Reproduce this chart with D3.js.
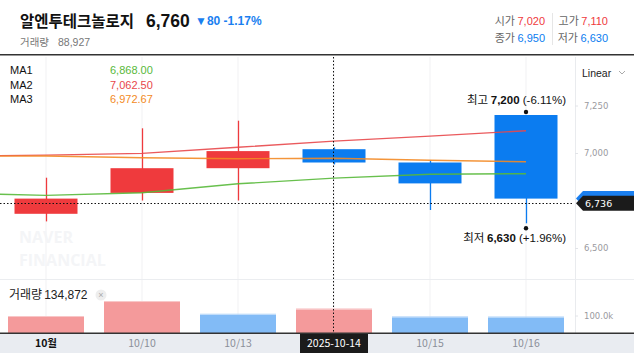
<!DOCTYPE html>
<html>
<head>
<meta charset="utf-8">
<script src="https://cdn.jsdelivr.net/npm/d3@7"></script>
<style>
  body { margin: 0; background: #fff; }
  svg { display: block; font-family: "Liberation Sans", "Noto Sans CJK KR", sans-serif; }
</style>
</head>
<body>
<svg id="chart" width="634" height="353"></svg>
<script>
// dates (first one is off-screen, only the moving averages pass through it)
const dates = ["10/01", "10/02", "10/10", "10/13", "10/14", "10/15", "10/16"];
const tickLabels = ["", "10월", "10/10", "10/13", "2025-10-14", "10/15", "10/16"];

const candleDates = ["10/02", "10/10", "10/13", "10/14", "10/15", "10/16"];
const opens  = [6680, 6790, 6920, 7020, 6950, 7200];
const highs  = [6870, 7130, 7170, 7030, 6960, 7200];
const lows   = [6640, 6750, 6750, 6940, 6700, 6630];
const closes = [6760, 6920, 7010, 6950, 6840, 6760];
const prevVolume = 80000;
const volumes = [91400, 177000, 104600, 134872, 89500, 88927];

const ma1 = [6790, 6777, 6791, 6838, 6868, 6888, 6891];
const ma2 = [6983, 6989, 6998, 7030, 7062.5, 7089, 7117];
const ma3 = [6983, 6984, 6975, 6970, 6972.67, 6962, 6954];

const priceTicks = [6500, 7000, 7250];

const width = 634, height = 353;
const plotTop = 55, plotBottom = 279, volBottom = 333, axisX = 575;
const UP = "#ef3a3d", DOWN = "#0b7cf0";

const svg = d3.select("#chart");

const x = d3.scalePoint().domain(dates).range([-50, 526]);
const y = d3.scaleLinear().domain([6500, 7250]).range([248, 105.5]);
const yVol = d3.scaleLinear().domain([0, 100000]).range([volBottom, volBottom - 17.5]);

// header
const head = svg.append("g");
head.append("text").attr("x", 20).attr("y", 27)
  .attr("font-size", 15.5).attr("font-weight", "bold").attr("fill", "#111")
  .style("font-family", "'Noto Sans CJK KR'")
  .text("알엔투테크놀로지");
head.append("text").attr("x", 146).attr("y", 27)
  .attr("font-size", 17.5).attr("font-weight", "bold").attr("fill", "#111")
  .text("6,760");
head.append("text").attr("x", 195).attr("y", 25)
  .attr("font-size", 12).attr("font-weight", "bold").attr("fill", "#1a7ff0")
  .text("▼80  -1.17%");
head.append("text").attr("x", 20).attr("y", 46)
  .attr("font-size", 10.5).attr("fill", "#777")
  .html('<tspan style="font-family:\'Noto Sans CJK KR\'">거래량</tspan><tspan dx="9">88,927</tspan>');

const ohlc = [
  {x: 545, y: 25, k: "시가", v: "7,020", c: UP},
  {x: 608, y: 25, k: "고가", v: "7,110", c: UP},
  {x: 545, y: 42, k: "종가", v: "6,950", c: DOWN},
  {x: 608, y: 42, k: "저가", v: "6,630", c: DOWN}
];
ohlc.forEach(d => {
  const t = head.append("text").attr("x", d.x).attr("y", d.y)
    .attr("text-anchor", "end").attr("font-size", 11);
  t.append("tspan").attr("fill", "#666").style("font-family", "'Noto Sans CJK KR'").text(d.k + " ");
  t.append("tspan").attr("fill", d.c).text(d.v);
});
head.append("line").attr("x1", 552.5).attr("x2", 552.5).attr("y1", 13).attr("y2", 45)
  .attr("stroke", "#e6e6e6");

svg.append("rect").attr("x", 0).attr("y", 54).attr("width", width).attr("height", 1.5)
  .attr("fill", "#333");

// grid lines
svg.append("g").selectAll("line").data(candleDates).join("line")
  .attr("x1", d => x(d)).attr("x2", d => x(d))
  .attr("y1", plotTop + 2).attr("y2", volBottom)
  .attr("stroke", "#f1f1f3");
svg.append("line").attr("x1", axisX + 0.5).attr("x2", axisX + 0.5)
  .attr("y1", plotTop + 2).attr("y2", volBottom).attr("stroke", "#e9ebee");
svg.append("line").attr("x1", 0).attr("x2", width).attr("y1", plotBottom + 0.5).attr("y2", plotBottom + 0.5)
  .attr("stroke", "#ebedf0");

// watermark
const wm = svg.append("g").attr("fill", "#f4f5f7").attr("font-weight", "bold").attr("font-size", 16)
  .style("font-family", "'Open Sans', sans-serif");
wm.append("text").attr("x", 19).attr("y", 243).text("NAVER");
wm.append("text").attr("x", 19).attr("y", 266).text("FINANCIAL");

// clip for the plot
svg.append("clipPath").attr("id", "plotclip").append("rect")
  .attr("x", 0).attr("y", plotTop).attr("width", axisX).attr("height", plotBottom - plotTop);
const plot = svg.append("g").attr("clip-path", "url(#plotclip)");

// candles
const bodyW = 63;
const candles = candleDates.map((d, i) => ({date: d, o: opens[i], h: highs[i], l: lows[i], c: closes[i]}));
plot.selectAll(".wick").data(candles).join("line")
  .attr("x1", d => Math.round(x(d.date)) + 0.5).attr("x2", d => Math.round(x(d.date)) + 0.5)
  .attr("y1", d => y(d.h)).attr("y2", d => y(d.l))
  .attr("stroke", d => d.c >= d.o ? UP : DOWN).attr("stroke-width", 1.3);
plot.selectAll(".body").data(candles).join("rect")
  .attr("x", d => x(d.date) - bodyW / 2)
  .attr("y", d => y(Math.max(d.o, d.c)))
  .attr("width", bodyW)
  .attr("height", d => Math.abs(y(d.o) - y(d.c)))
  .attr("fill", d => d.c >= d.o ? UP : DOWN);

// moving averages
const line = d3.line().x((d, i) => x(dates[i])).y(d => y(d));
[[ma2, "#e8484b"], [ma3, "#f38a25"], [ma1, "#58b93a"]].forEach(([s, col]) => {
  plot.append("path").datum(s).attr("d", line)
    .attr("fill", "none").attr("stroke", col).attr("stroke-width", 1.4).attr("opacity", 0.9);
});

// MA legend
const legend = [["MA1", "6,868.00", "#58b93a"], ["MA2", "7,062.50", "#e8484b"], ["MA3", "6,972.67", "#f38a25"]];
legend.forEach((d, i) => {
  svg.append("text").attr("x", 10).attr("y", 74 + i * 14.5).attr("font-size", 11).attr("fill", "#111").text(d[0]);
  svg.append("text").attr("x", 110).attr("y", 74 + i * 14.5).attr("font-size", 11).attr("fill", d[2]).text(d[1]);
});

// high / low markers on the visible range
const hiIdx = d3.maxIndex(highs), loIdx = d3.minIndex(lows);
const last = closes[closes.length - 1];
const pct = v => (last / v - 1) * 100;
const fmtPct = v => (v > 0 ? "+" : "") + v.toFixed(2) + "%";
svg.append("circle").attr("cx", x(candleDates[hiIdx])).attr("cy", y(highs[hiIdx]) - 3).attr("r", 2.2).attr("fill", "#111");
svg.append("circle").attr("cx", x(candleDates[loIdx])).attr("cy", y(lows[loIdx]) + 5).attr("r", 2.2).attr("fill", "#111");
const hiT = svg.append("text").attr("x", 566).attr("y", y(highs[hiIdx]) - 11)
  .attr("text-anchor", "end").attr("font-size", 11.5).attr("fill", "#111");
hiT.append("tspan").style("font-family", "'Noto Sans CJK KR'").text("최고 ");
hiT.append("tspan").attr("font-weight", "bold").text(d3.format(",")(highs[hiIdx]));
hiT.append("tspan").text(" (" + fmtPct(pct(highs[hiIdx])) + ")");
const loT = svg.append("text").attr("x", 566).attr("y", y(lows[loIdx]) + 19)
  .attr("text-anchor", "end").attr("font-size", 11.5).attr("fill", "#111");
loT.append("tspan").style("font-family", "'Noto Sans CJK KR'").text("최저 ");
loT.append("tspan").attr("font-weight", "bold").text(d3.format(",")(lows[loIdx]));
loT.append("tspan").text(" (" + fmtPct(pct(lows[loIdx])) + ")");

// volume bars, coloured by change from the previous day's volume
const volUp = volumes.map((v, i) => v >= (i ? volumes[i - 1] : prevVolume));
const volW = 76;
svg.append("g").selectAll("rect").data(candles).join("rect")
  .attr("x", d => x(d.date) - volW / 2)
  .attr("y", (d, i) => yVol(volumes[i]))
  .attr("width", volW)
  .attr("height", (d, i) => volBottom - yVol(volumes[i]))
  .attr("fill", (d, i) => volUp[i] ? "#f49a9b" : "#82bbf6");
svg.append("g").selectAll("rect").data(candles).join("rect")
  .attr("x", d => x(d.date) - volW / 2)
  .attr("y", (d, i) => yVol(volumes[i]) - 1)
  .attr("width", volW).attr("height", 1)
  .attr("fill", (d, i) => volUp[i] ? "#f8c6c7" : "#b5d6f9");

const volLbl = svg.append("text").attr("x", 9).attr("y", 299).attr("font-size", 12).attr("fill", "#222");
volLbl.append("tspan").style("font-family", "'Noto Sans CJK KR'").text("거래량");
volLbl.append("tspan").attr("dx", 2).text(d3.format(",")(volumes[3]));
svg.append("circle").attr("cx", 101).attr("cy", 295).attr("r", 5.5).attr("fill", "#eeeeee");
svg.append("text").attr("x", 101).attr("y", 298).attr("text-anchor", "middle")
  .attr("font-size", 9).attr("fill", "#aaa").text("×");

// price axis
const yAxis = d3.axisRight(y).tickValues(priceTicks).tickSize(3).tickFormat(d3.format(","));
const ga = svg.append("g").attr("transform", `translate(${axisX},0)`).call(yAxis);
ga.select(".domain").remove();
ga.selectAll("line").attr("stroke", "#e2e4e8");
ga.selectAll("text").attr("x", 9).attr("fill", "#9a9aa0")
  .style("font-family", "'DejaVu Sans'").attr("font-size", 8.5);

const vAxis = d3.axisRight(yVol).tickValues([100000]).tickSize(3).tickFormat(d => (d / 1000).toFixed(1) + "k");
const gv = svg.append("g").attr("transform", `translate(${axisX},0)`).call(vAxis);
gv.select(".domain").remove();
gv.selectAll("line").attr("stroke", "#e2e4e8");
gv.selectAll("text").attr("x", 9).attr("fill", "#9a9aa0")
  .style("font-family", "'DejaVu Sans'").attr("font-size", 8.5);

svg.append("text").attr("x", 582).attr("y", 77).attr("font-size", 10.5).attr("fill", "#222").text("Linear");
svg.append("path").attr("d", "M619,71 l3,3 l3,-3").attr("fill", "none").attr("stroke", "#aaa").attr("stroke-width", 1);

// crosshair
const crossY = y(6736);
svg.append("line").attr("x1", 0).attr("x2", 572).attr("y1", Math.round(crossY) + 0.5).attr("y2", Math.round(crossY) + 0.5)
  .attr("stroke", "#111").attr("stroke-dasharray", "1.5,2");
svg.append("line").attr("x1", x("10/14") - 0.5).attr("x2", x("10/14") - 0.5).attr("y1", plotTop + 2).attr("y2", volBottom)
  .attr("stroke", "#111").attr("stroke-dasharray", "1.5,2");

// price tags (current price sits behind the crosshair tag)
function tag(v, fill, showText) {
  const yy = y(v);
  svg.append("path")
    .attr("d", `M${axisX + 1},${yy} l7,-7.5 h${width - axisX - 8} v15 h-${width - axisX - 8} z`)
    .attr("fill", fill);
  if (showText) {
    svg.append("text").attr("x", 585).attr("y", yy + 4).attr("fill", "#fff")
      .style("font-family", "'DejaVu Sans'").attr("font-size", 9.5).text(d3.format(",")(v));
  }
}
tag(last, "#1a7ff0", false);
tag(6736, "#1b1b1b", true);

// x axis band
svg.append("rect").attr("x", 0).attr("y", volBottom).attr("width", width).attr("height", height - volBottom)
  .attr("fill", "#e9ecf1");
svg.append("rect").attr("x", 0).attr("y", volBottom - 0.5).attr("width", width).attr("height", 1.5).attr("fill", "#333");
const xt = svg.append("g");
dates.forEach((d, i) => {
  if (!tickLabels[i]) return;
  const cx = x(d);
  if (d === "10/14") {
    xt.append("rect").attr("x", cx - 34).attr("y", volBottom + 1).attr("width", 68).attr("height", height - volBottom - 1)
      .attr("fill", "#1b1b1b");
  }
  xt.append("text").attr("x", cx).attr("y", 347).attr("text-anchor", "middle")
    .attr("font-size", 10.5)
    .attr("fill", d === "10/14" ? "#fff" : (i === 1 ? "#111" : "#8b8f99"))
    .attr("font-weight", i === 1 ? "bold" : "normal")
    .style("font-family", "'Noto Sans CJK KR'")
    .text(tickLabels[i]);
});
</script>
</body>
</html>
